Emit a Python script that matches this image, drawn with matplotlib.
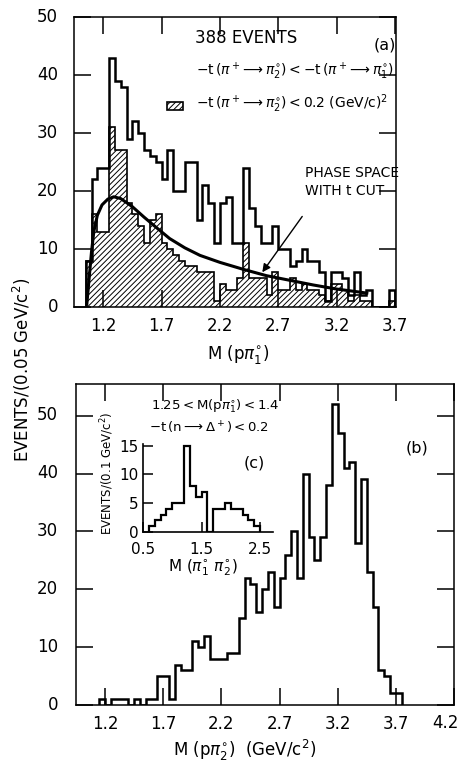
import numpy as np
import matplotlib
matplotlib.use("Agg")
import matplotlib.pyplot as plt

plt.rcParams['font.family'] = ['DejaVu Sans']
plt.rcParams['hatch.linewidth'] = 0.7
plt.rcParams['mathtext.fontset'] = 'dejavusans'

# ---------------- data ----------------
# (a) M(p pi1) 0.05 GeV bins starting at 1.05
a_start = 1.05
a_all = [8, 22, 24, 24, 43, 39, 38, 29, 32, 30, 27, 26, 25, 22, 27, 20, 20, 25, 25,
         15, 21, 18, 11, 18, 19, 11, 11, 24, 17, 14, 11, 11, 14, 10, 10, 7, 8, 10, 8,
         8, 6, 1, 6, 6, 5, 2, 6, 2, 3, 0, 0, 0, 3]
a_cut = [8, 16, 13, 13, 31, 27, 27, 18, 16, 14, 11, 15, 16, 11, 10, 9, 8, 7, 7,
         6, 6, 6, 1, 4, 3, 3, 5, 11, 5, 5, 5, 2, 6, 3, 3, 5, 3, 4, 3,
         3, 2, 1, 4, 4, 3, 1, 2, 1, 1, 0, 0, 0, 1]
# phase space curve (read-off points)
ps_m = [1.06, 1.08, 1.10, 1.12, 1.15, 1.19, 1.24, 1.29, 1.35, 1.45, 1.55, 1.65,
        1.77, 1.90, 2.03, 2.20, 2.40, 2.60, 2.80, 3.00, 3.20, 3.35, 3.46]
ps_n = [0.5, 5, 9.5, 13, 15.8, 17.6, 18.6, 19, 18.7, 17.3, 15.5, 13.8,
        11.8, 10.2, 8.9, 7.7, 6.5, 5.4, 4.6, 3.8, 3.1, 2.7, 2.4]

# (b) M(p pi2) 0.05 GeV bins starting at 1.15
b_start = 1.15
b_vals = [1, 0, 1, 1, 1, 0, 1, 0, 1, 1, 5, 5, 1, 7, 6, 6, 11, 10, 12, 8, 8, 8, 9, 9,
          15, 22, 21, 16, 20, 23, 17, 22, 26, 30, 22, 40, 29, 25, 29, 38, 52, 47, 41,
          42, 28, 39, 23, 17, 6, 5, 2, 2]

# (c) M(pi1 pi2) 0.1 GeV bins starting at 0.6
c_start = 0.6
c_vals = [1, 2, 3, 4, 5, 5, 15, 8, 6, 7, 0, 4, 4, 5, 4, 4, 3, 2, 1]

a_ticks = [1.2, 1.7, 2.2, 2.7, 3.2, 3.7]
b_ticks = [1.2, 1.7, 2.2, 2.7, 3.2, 3.7, 4.2]
c_xticks = [0.5, 1.5, 2.5]
c_yticks = [0, 5, 10, 15]

# ---------------- figure ----------------
W, H = 461, 762
fig = plt.figure(figsize=(W / 100, H / 100), dpi=100)

def px_axes(l, t, r, b):
    return fig.add_axes([l / W, 1 - b / H, (r - l) / W, (b - t) / H])

def fx(x):
    return x / W

def fy(y):
    return 1 - y / H

LW = 1.8
FS = 12

def style(ax, ticks):
    for s in ax.spines.values():
        s.set_linewidth(1.1)
    ax.tick_params(direction='in', length=12, width=1.1, top=True, right=True,
                   labelsize=FS, pad=7)
    ax.set_xticks(ticks)
    ax.set_xticklabels([f"{t:.1f}" for t in ticks])

# ---- (a) ----
axa = px_axes(74, 17, 396, 307)
ea = a_start + 0.05 * np.arange(len(a_all) + 1)
axa.stairs(a_cut, ea, fill=True, facecolor='white', edgecolor='black',
           hatch='//////', linewidth=0)
axa.stairs(a_cut, ea, color='black', linewidth=1.2)
axa.stairs(a_all, ea, color='black', linewidth=LW)
axa.plot(ps_m, ps_n, color='black', linewidth=2.2)
axa.set_xlim(0.95, 3.71)
axa.set_ylim(0, 50)
style(axa, a_ticks)
axa.set_yticks([0, 10, 20, 30, 40, 50])
axa.tick_params(axis='y', which='both', labelleft=False)
for v in [0, 10, 20, 30, 40, 50]:
    fig.text(fx(58), fy(307 - v * 5.8), str(v), ha='right', va='center', fontsize=FS)

fig.text(fx(195), fy(38), "388 EVENTS", fontsize=12, ha='left', va='center')
fig.text(fx(396), fy(45), "(a)", fontsize=11.5, ha='right', va='center')
fig.text(fx(196), fy(71),
         r"$-\mathrm{t}\,(\pi^+\!\longrightarrow\pi_2^{\circ})<-\mathrm{t}\,(\pi^+\!\longrightarrow\pi_1^{\circ})$",
         fontsize=10, ha='left', va='center')
fig.text(fx(196), fy(104),
         r"$-\mathrm{t}\,(\pi^+\!\longrightarrow\pi_2^{\circ})<0.2\ (\mathrm{GeV/c})^2$",
         fontsize=10, ha='left', va='center')
box = plt.Rectangle((fx(167), fy(110)), fx(16), 8 / H, transform=fig.transFigure,
                    facecolor='white', edgecolor='black', hatch='//////', linewidth=1.2)
fig.add_artist(box)
fig.text(fx(305), fy(182), "PHASE SPACE\nWITH t CUT", fontsize=10, ha='left', va='center',
         linespacing=1.3)
axa.annotate("", xy=(2.55, 5.6), xytext=(2.92, 16.0),
             arrowprops=dict(arrowstyle='-|>', color='black', lw=1.0, mutation_scale=12))
fig.text(fx(238), fy(354), r"M $(\mathrm{p}\pi_1^{\circ})$", fontsize=12, ha='center', va='center')

# ---- (b) ----
axb = px_axes(76, 384, 454, 705)
eb = b_start + 0.05 * np.arange(len(b_vals) + 1)
axb.stairs(b_vals, eb, color='black', linewidth=LW)
axb.set_xlim(0.95, 4.2)
axb.set_ylim(0, 55.5)
style(axb, b_ticks)
axb.set_xticklabels([f"{t:.1f}" for t in b_ticks[:-1]] + [""])
fig.text(fx(445), fy(723), "4.2", fontsize=FS, ha='center', va='center')
axb.set_yticks([0, 10, 20, 30, 40, 50])
axb.tick_params(axis='y', labelleft=False)
for v in [0, 10, 20, 30, 40, 50]:
    fig.text(fx(58), fy(705 - v * 5.8), str(v), ha='right', va='center', fontsize=FS)
fig.text(fx(428), fy(448), "(b)", fontsize=11.5, ha='right', va='center')
fig.text(fx(245), fy(750), r"M $(\mathrm{p}\pi_2^{\circ})$  $(\mathrm{GeV/c}^2)$", fontsize=12,
         ha='center', va='center')
fig.text(fx(22), fy(370), r"EVENTS/(0.05 GeV/c$^2$)", rotation=90, fontsize=12,
         ha='center', va='center')

# ---- (c) inset ----
axc = px_axes(143, 444, 273, 532)
ec = c_start + 0.1 * np.arange(len(c_vals) + 1)
axc.stairs(c_vals, ec, color='black', linewidth=1.6)
axc.set_xlim(0.5, 2.72)
axc.set_ylim(0, 15.3)
axc.patch.set_alpha(0)
for s in ['top', 'right']:
    axc.spines[s].set_visible(False)
for s in ['left', 'bottom']:
    axc.spines[s].set_linewidth(1.2)
axc.set_xticks(c_xticks)
axc.set_xticklabels([str(t) for t in c_xticks])
axc.set_yticks(c_yticks)
axc.tick_params(direction='in', length=7, width=1.1, labelsize=11)
axc.tick_params(axis='x', pad=7)
axc.tick_params(axis='y', pad=3)
fig.text(fx(265), fy(463), "(c)", fontsize=11.5, ha='right', va='center')
fig.text(fx(151), fy(406), r"$1.25<\mathrm{M}(\mathrm{p}\pi_1^{\circ})<1.4$", fontsize=9.5,
         ha='left', va='center')
fig.text(fx(149), fy(428), r"$-\mathrm{t}\,(\mathrm{n}\longrightarrow\Delta^+)<0.2$", fontsize=9.5,
         ha='left', va='center')
fig.text(fx(107), fy(473), r"EVENTS/(0.1 GeV/c$^2$)", rotation=90, fontsize=8.5,
         ha='center', va='center')
fig.text(fx(203), fy(568), r"M $(\pi_1^{\circ}\ \pi_2^{\circ})$", fontsize=11,
         ha='center', va='center')

fig.savefig("out.png", dpi=100)
